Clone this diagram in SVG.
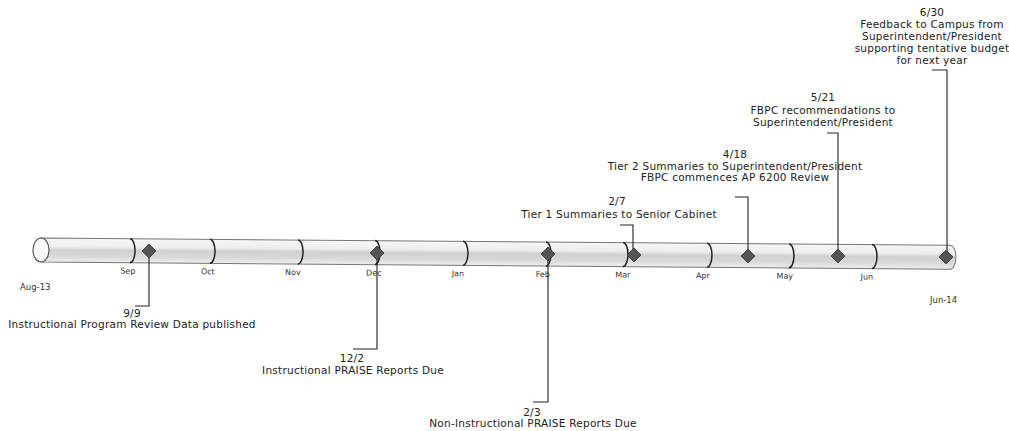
<svg xmlns="http://www.w3.org/2000/svg" width="1009" height="431" viewBox="0 0 1009 431">
<style>
  text { font-family: "DejaVu Sans", "Liberation Sans", sans-serif; fill: #222; }
  .lbl { font-size: 10.5px; letter-spacing: 0.25px; text-anchor: middle; }
  .mon { font-size: 8px; text-anchor: middle; fill: #333; }
  .end { font-size: 8.5px; fill: #333; }
  .conn { fill: none; stroke: #222; stroke-width: 1.1; }
  .div { fill: none; stroke: #222; stroke-width: 1.5; }
  .dia { fill: #555; stroke: #333; stroke-width: 0.8; }
</style>
<defs>
  <linearGradient id="tubeG" x1="0" y1="0" x2="0" y2="1">
    <stop offset="0" stop-color="#f6f6f6"/>
    <stop offset="0.35" stop-color="#eeeeee"/>
    <stop offset="0.5" stop-color="#d0d0d0"/>
    <stop offset="0.75" stop-color="#d8d8d8"/>
    <stop offset="1" stop-color="#efefef"/>
  </linearGradient>
</defs>
<rect width="1009" height="431" fill="#ffffff"/>

<g id="timeline" transform="rotate(0.45 41 250)">
  <path d="M41 238 L950 238 A6 12 0 0 1 950 262 L41 262 Z" fill="url(#tubeG)" stroke="#777" stroke-width="1"/>
  <ellipse cx="41" cy="250" rx="8" ry="12" fill="#fafafa" stroke="#555" stroke-width="1.2"/>
  <path class="div" d="M130 238 A5 12 0 0 1 130 262"/>
  <path class="div" d="M210 238 A5 12 0 0 1 210 262"/>
  <path class="div" d="M298 238 A5 12 0 0 1 298 262"/>
  <path class="div" d="M375 238 A5 12 0 0 1 375 262"/>
  <path class="div" d="M463 238 A5 12 0 0 1 463 262"/>
  <path class="div" d="M546 238 A5 12 0 0 1 546 262"/>
  <path class="div" d="M623 238 A5 12 0 0 1 623 262"/>
  <path class="div" d="M707 238 A5 12 0 0 1 707 262"/>
  <path class="div" d="M789 238 A5 12 0 0 1 789 262"/>
  <path class="div" d="M872 238 A5 12 0 0 1 872 262"/>
  <text class="mon" x="128" y="273">Sep</text>
  <text class="mon" x="208" y="273">Oct</text>
  <text class="mon" x="293" y="273">Nov</text>
  <text class="mon" x="374" y="273">Dec</text>
  <text class="mon" x="458" y="273">Jan</text>
  <text class="mon" x="543" y="273">Feb</text>
  <text class="mon" x="623" y="273">Mar</text>
  <text class="mon" x="703" y="273">Apr</text>
  <text class="mon" x="785" y="273">May</text>
  <text class="mon" x="867" y="273">Jun</text>
</g>

<g id="connectors">
  <path class="conn" d="M149 251 V306 H135"/>
  <path class="conn" d="M377 253 V349 H353"/>
  <path class="conn" d="M548 254 V402 H533"/>
  <path class="conn" d="M633 255 V225 H620"/>
  <path class="conn" d="M748 256 V197 H735"/>
  <path class="conn" d="M838 256 V133 H827"/>
  <path class="conn" d="M947 257 V70 H932"/>
</g>

<g id="ends">
  <text class="end" x="20" y="290">Aug-13</text>
  <text class="end" x="930" y="303">Jun-14</text>
</g>

<g id="m-sep">
  <path class="dia" d="M149 244 L156 251 L149 258 L142 251 Z"/>
  <text class="lbl" x="132" y="317">9/9</text>
  <text class="lbl" x="132" y="328">Instructional Program Review Data published</text>
</g>
<g id="m-dec">
  <path class="dia" d="M377 246 L384 253 L377 260 L370 253 Z"/>
  <text class="lbl" x="352" y="362">12/2</text>
  <text class="lbl" x="353" y="374">Instructional PRAISE Reports Due</text>
</g>
<g id="m-feb">
  <path class="dia" d="M548 247 L555 254 L548 261 L541 254 Z"/>
  <text class="lbl" x="532" y="416">2/3</text>
  <text class="lbl" x="533" y="427">Non-Instructional PRAISE Reports Due</text>
</g>
<g id="m-mar">
  <path class="dia" d="M634 248 L641 255 L634 262 L627 255 Z"/>
  <text class="lbl" x="617" y="205">2/7</text>
  <text class="lbl" x="619" y="218">Tier 1 Summaries to Senior Cabinet</text>
</g>
<g id="m-apr">
  <path class="dia" d="M748 249 L755 256 L748 263 L741 256 Z"/>
  <text class="lbl" x="735" y="158">4/18</text>
  <text class="lbl" x="735" y="170">Tier 2 Summaries to Superintendent/President</text>
  <text class="lbl" x="735" y="181">FBPC commences AP 6200 Review</text>
</g>
<g id="m-may">
  <path class="dia" d="M838 249 L845 256 L838 263 L831 256 Z"/>
  <text class="lbl" x="823" y="101">5/21</text>
  <text class="lbl" x="823" y="114">FBPC recommendations to</text>
  <text class="lbl" x="823" y="126">Superintendent/President</text>
</g>
<g id="m-jun">
  <path class="dia" d="M946 250 L953 257 L946 264 L939 257 Z"/>
  <text class="lbl" x="932" y="16">6/30</text>
  <text class="lbl" x="932" y="28">Feedback to Campus from</text>
  <text class="lbl" x="932" y="40">Superintendent/President</text>
  <text class="lbl" x="932" y="52">supporting tentative budget</text>
  <text class="lbl" x="932" y="64">for next year</text>
</g>
</svg>
